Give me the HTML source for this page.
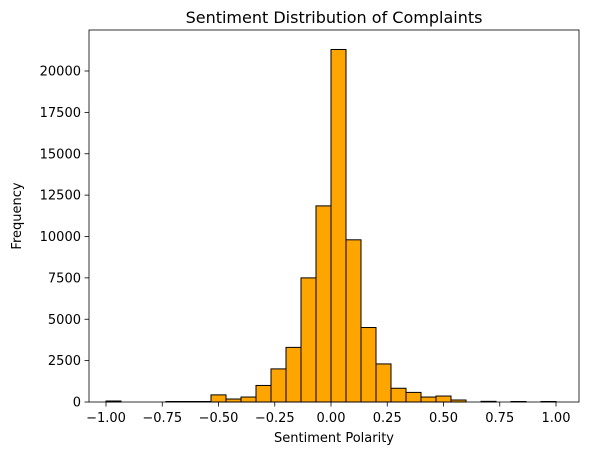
<!DOCTYPE html>
<html><head><meta charset="utf-8"><style>
body{margin:0;background:#fff;}
svg{display:block;font-family:"DejaVu Sans","Liberation Sans",sans-serif;}
</style></head><body>
<svg id="chart" width="589" height="455"></svg>
<script>
const binStart = -1;
const binWidth = 2/30;
const counts = [60,0,0,0,30,30,30,430,180,300,1000,2000,3300,7500,11850,21300,9800,4500,2300,830,580,300,360,120,0,40,0,30,0,30];
const xTicks = [-1.00,-0.75,-0.50,-0.25,0.00,0.25,0.50,0.75,1.00];
const xTickLabels = ["−1.00","−0.75","−0.50","−0.25","0.00","0.25","0.50","0.75","1.00"];
const yTicks = [0,2500,5000,7500,10000,12500,15000,17500,20000];

const NS="http://www.w3.org/2000/svg";
const svg=document.getElementById('chart');
const L=89,R=579,T=30,B=402;
function xs(v){return 106+(v+1)*225;}
function ys(v){return B-v*(331/20000);}
function mk(tag,attrs,parent){const e=document.createElementNS(NS,tag);for(const k in attrs)e.setAttribute(k,attrs[k]);(parent||svg).appendChild(e);return e;}

const bars=mk('g',{});


counts.forEach((c,i)=>{
  if(c<=0)return;
  const x0=xs(binStart+i*binWidth),x1=xs(binStart+(i+1)*binWidth);
  const r=mk('rect',{x:x0,y:ys(c),width:x1-x0,height:B-ys(c),fill:'#ffa500',stroke:'#000','stroke-width':1},bars);
  
  
});

const ax=mk('rect',{x:L,y:T,width:R-L,height:B-T,fill:'none',stroke:'#000','stroke-width':0.8});



xTicks.forEach((v,i)=>{
  const x=xs(v);
  mk('line',{x1:x,x2:x,y1:B,y2:B+4.5,stroke:'#000','stroke-width':0.8});
  const t=mk('text',{x:x,y:B+20,'text-anchor':'middle','font-size':13});
  t.textContent=xTickLabels[i];
  
  
});
yTicks.forEach(v=>{
  const y=ys(v);
  mk('line',{x1:L-4.5,x2:L,y1:y,y2:y,stroke:'#000','stroke-width':0.8});
  const t=mk('text',{x:L-8,y:y+4.5,'text-anchor':'end','font-size':13});
  t.textContent=String(v);
  
  
});
const ti=mk('text',{x:(L+R)/2,y:T-7,'text-anchor':'middle','font-size':16});
ti.textContent='Sentiment Distribution of Complaints';


const xl=mk('text',{x:(L+R)/2,y:B+40,'text-anchor':'middle','font-size':13});
xl.textContent='Sentiment Polarity';


const yl=mk('text',{x:21,y:(T+B)/2,'text-anchor':'middle','font-size':13,transform:'rotate(-90 21 '+((T+B)/2)+')'});
yl.textContent='Frequency';


</script>
</body></html>
